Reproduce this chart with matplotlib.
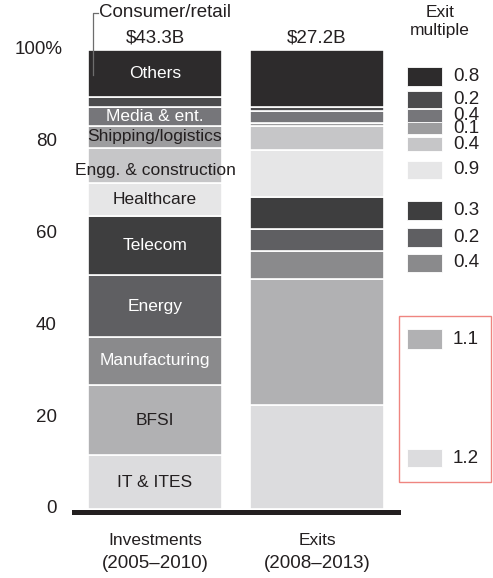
import matplotlib.pyplot as plt
from matplotlib.patches import Rectangle

plt.rcParams['font.family'] = ['Liberation Sans', 'DejaVu Sans']

# data (% of value), bottom to top
sectors = ['IT & ITES', 'BFSI', 'Manufacturing', 'Energy', 'Telecom', 'Healthcare',
           'Engg. & construction', 'Shipping/logistics', 'Media & ent.', 'Consumer/retail', 'Others']
investments = [11.7, 15.3, 10.5, 13.4, 13.0, 7.2, 7.6, 4.7, 4.1, 2.3, 10.2]
exits = [22.7, 27.5, 6.1, 4.8, 6.9, 10.2, 5.2, 0.8, 2.4, 1.0, 12.4]
multiples = ['1.2', '1.1', '0.4', '0.2', '0.3', '0.9', '0.4', '0.1', '0.4', '0.2', '0.8']
totals = ['$43.3B', '$27.2B']
bar_names = [('Investments', '(2005\u20132010)'), ('Exits', '(2008\u20132013)')]

colors = ['#dcdcde', '#b1b1b3', '#8a8a8c', '#5f5f62', '#3e3e3f', '#e6e6e7',
          '#c6c6c8', '#9d9d9f', '#76767a', '#4b4b4d', '#2d2b2c']
txt_colors = ['#231f20', '#231f20', 'white', 'white', 'white', '#231f20',
              '#231f20', '#231f20', 'white', None, 'white']
DARK = '#231f20'

# legend layout: y centre and patch height (in % units), bottom to top
leg_y = [11.1, 37.0, 53.6, 59.2, 65.1, 73.9, 79.5, 83.0, 85.8, 89.3, 94.3]
leg_h = [4.1, 4.3, 3.9, 4.1, 4.1, 3.9, 3.0, 2.8, 2.8, 3.7, 4.1]

fig = plt.figure(figsize=(4.93, 5.78), dpi=100)
ax = fig.add_axes([0.1501, 0.1135, 0.6572, 0.80])
ax.set_xlim(-0.5, 1.5)
ax.set_ylim(-0.75, 100)

w = 134 / 162
bottom = 0
for i, s in enumerate(sectors):
    ax.bar(0, investments[i], w, bottom=bottom, color=colors[i], edgecolor='white', linewidth=1.2)
    ax.bar(1, exits[i], w, bottom=sum(exits[:i]), color=colors[i], edgecolor='white', linewidth=1.2)
    if txt_colors[i] is not None:
        yc = bottom + investments[i] / 2
        if s.startswith('Engg'):
            yc -= 1.1
        ax.text(0, yc, s, ha='center', va='center', fontsize=12.5, color=txt_colors[i], zorder=5)
    bottom += investments[i]

# consumer/retail callout
ax.plot([-0.383, -0.383, -0.352], [94.6, 108.1, 108.1], color='#6d6d6d', lw=0.9, clip_on=False)
ax.text(-0.346, 108.1, 'Consumer/retail', ha='left', va='center', fontsize=13.5, color=DARK)

for i in range(2):
    ax.text(i, 102.6, totals[i], ha='center', va='center', fontsize=13.5, color=DARK)
    ax.text(i, -6.9, bar_names[i][0], ha='center', va='center', fontsize=12.5, color=DARK, clip_on=False)
    ax.text(i, -11.9, bar_names[i][1], ha='center', va='center', fontsize=13.5, color=DARK, clip_on=False)

# y labels
for v in [0, 20, 40, 60, 80]:
    ax.text(-0.0525, v, str(v), transform=ax.get_yaxis_transform(), ha='right', va='center',
            fontsize=13.5, color=DARK)
ax.text(-0.034, 100, '100%', transform=ax.get_yaxis_transform(), ha='right', va='center',
        fontsize=13.5, color=DARK)

# legend
ax.text(1.759, 106.2, 'Exit\nmultiple', ha='center', va='center', fontsize=12.5, color=DARK,
        linespacing=1.25)
for i in range(len(multiples)):
    ax.add_patch(Rectangle((1.556, leg_y[i] - leg_h[i] / 2), 0.216, leg_h[i], facecolor=colors[i],
                           edgecolor='white', lw=0.6, clip_on=False))
    ax.text(1.84, leg_y[i], multiples[i], ha='left', va='center', fontsize=13.5, color=DARK)
ax.add_patch(Rectangle((1.506, 5.9), 0.568, 36.1, fill=False, edgecolor='#ef8580', lw=1.0, clip_on=False))

for sp in ['top', 'right', 'left']:
    ax.spines[sp].set_visible(False)
ax.spines['bottom'].set_linewidth(3.6)
ax.spines['bottom'].set_color(DARK)
ax.set_xticks([])
ax.set_yticks([])

fig.savefig('out.png', dpi=100)
